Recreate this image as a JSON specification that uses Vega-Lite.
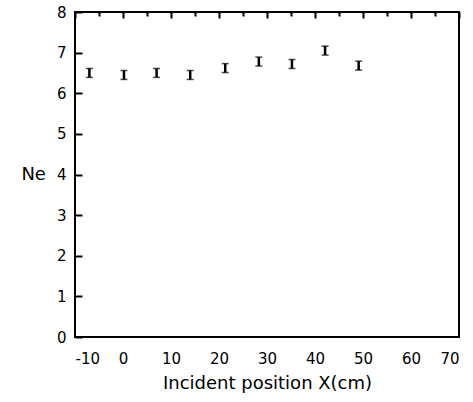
{
  "$schema": "https://vega.github.io/schema/vega-lite/v6.json",
  "width": 384,
  "height": 325,
  "autosize": "none",
  "padding": {"left": 75, "top": 12, "right": 14, "bottom": 65},
  "background": "white",
  "config": {
    "view": {"stroke": "black", "strokeWidth": 2},
    "axis": {
      "domain": false, "ticks": false, "grid": true, "gridColor": "black", "gridOpacity": 1, "gridWidth": 2,
      "labelColor": "black", "titleColor": "black",
      "labelFont": "DejaVu Sans", "titleFont": "DejaVu Sans",
      "labelFontSize": 15, "titleFontSize": 18, "titleFontWeight": "normal"
    }
  },
  "data": {"values": [
    {"x": -7, "y": 6.5, "e": 0.11},
    {"x": 0.2, "y": 6.45, "e": 0.11},
    {"x": 7, "y": 6.5, "e": 0.11},
    {"x": 14, "y": 6.45, "e": 0.11},
    {"x": 21.3, "y": 6.62, "e": 0.11},
    {"x": 28.3, "y": 6.78, "e": 0.11},
    {"x": 35.2, "y": 6.72, "e": 0.11},
    {"x": 42.1, "y": 7.05, "e": 0.11},
    {"x": 49.1, "y": 6.68, "e": 0.11}
  ]},
  "transform": [
    {"calculate": "datum.y - datum.e", "as": "lo"},
    {"calculate": "datum.y + datum.e", "as": "hi"}
  ],
  "resolve": {"axis": {"x": "independent", "y": "independent"}},
  "layer": [
    {
      "mark": {"type": "rule", "color": "black", "strokeWidth": 2.5},
      "encoding": {
        "x": {"field": "x", "type": "quantitative", "scale": {"domain": [-10, 70]},
          "axis": {"orient": "bottom", "values": [-10, -5, 0, 5, 10, 15, 20, 25, 30, 35, 40, 45, 50, 55, 60, 65, 70], "labelExpr": "datum.value % 10 == 0 ? '' + datum.value : ''", "gridDash": {"condition": {"test": "datum.value % 10 == 0", "value": [6, 2000]}, "value": [4, 2000]}, "labelPadding": 14, "title": "Incident position X(cm)", "titlePadding": 8}},
        "y": {"field": "lo", "type": "quantitative", "scale": {"domain": [0, 8]},
          "axis": {"orient": "left", "values": [0, 1, 2, 3, 4, 5, 6, 7, 8], "gridDash": [7, 2000], "labelPadding": 9, "title": "Ne", "titleAngle": 0, "titleAnchor": "middle", "titleAlign": "right", "titleBaseline": "middle", "titlePadding": 11}},
        "y2": {"field": "hi"}
      }
    },
    {
      "mark": {"type": "tick", "color": "black", "orient": "horizontal", "size": 7, "thickness": 1.5},
      "encoding": {
        "x": {"field": "x", "type": "quantitative", "scale": {"domain": [-10, 70]},
          "axis": {"orient": "top", "values": [-10, -5, 0, 5, 10, 15, 20, 25, 30, 35, 40, 45, 50, 55, 60, 65, 70], "gridDash": {"condition": {"test": "datum.value % 10 == 0", "value": [6, 2000]}, "value": [4, 2000]}, "labels": false, "title": null}},
        "y": {"field": "lo", "type": "quantitative", "scale": {"domain": [0, 8]},
          "axis": {"orient": "right", "values": [0, 1, 2, 3, 4, 5, 6, 7, 8], "gridDash": [7, 2000], "labels": false, "title": null}}
      }
    },
    {
      "mark": {"type": "tick", "color": "black", "orient": "horizontal", "size": 7, "thickness": 1.5},
      "encoding": {
        "x": {"field": "x", "type": "quantitative", "scale": {"domain": [-10, 70]}, "axis": null},
        "y": {"field": "hi", "type": "quantitative", "scale": {"domain": [0, 8]}, "axis": null}
      }
    }
  ]
}
